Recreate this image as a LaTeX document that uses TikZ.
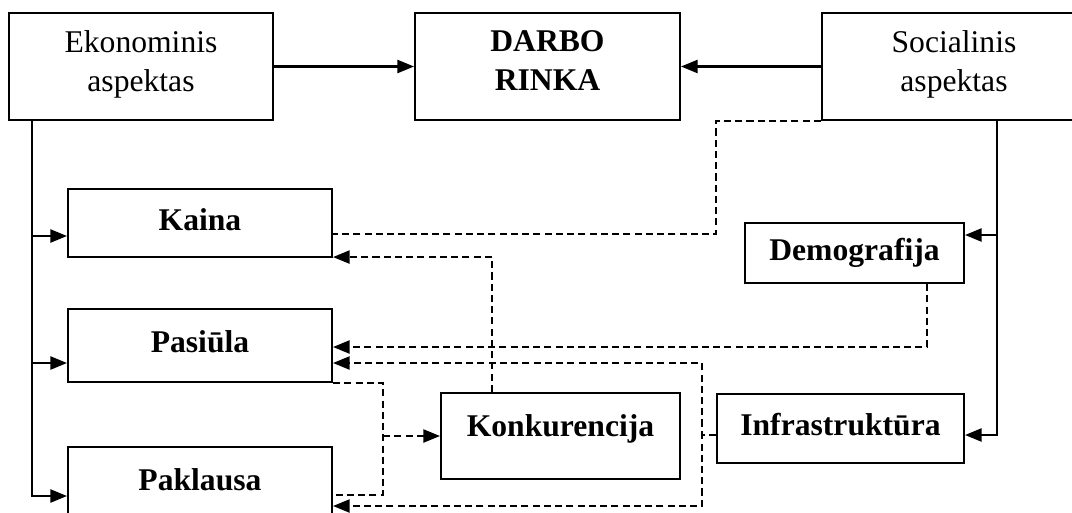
\documentclass[tikz,border=0pt]{standalone}
\usepackage{fontspec}
\setmainfont{Liberation Serif}
\usetikzlibrary{arrows.meta,calc}
\begin{document}
\begin{tikzpicture}[x=0.02cm,y=-0.02cm,
  box/.style={draw, line width=1.2pt, inner sep=0pt, align=center, font=\fontsize{18}{22}\selectfont},
  bbox/.style={box, font=\fontsize{18}{22}\selectfont\bfseries},
  one/.style={text height=13pt, text depth=5pt},
  solidarr/.style={line width=1.2pt, -{Triangle[length=9.5pt,width=7.5pt]}},
  dsh/.style={line width=1.1pt, dash pattern=on 4pt off 2.4pt},
  dsharr/.style={dsh, -{Triangle[length=9.5pt,width=7.5pt]}}
]
\clip (0,0) rectangle (1072,512);
% boxes
\node[box, minimum width=5.28cm, minimum height=2.14cm, text depth=6pt] (eko) at (141,66.5) {Ekonominis\\aspektas};
\node[bbox, minimum width=5.30cm, minimum height=2.14cm, text depth=7pt] (darbo) at (547.5,66.5) {DARBO\\RINKA};
\node[box, minimum width=5.28cm, minimum height=2.14cm, text depth=6pt] (soc) at (954,66.5) {Socialinis\\aspektas};
\node[bbox, one, minimum width=5.28cm, minimum height=1.36cm] (kaina) at (200,223) {Kaina};
\node[bbox, one, minimum width=5.28cm, minimum height=1.46cm] (pas) at (200,345.5) {Pasiūla};
\node[bbox, one, minimum width=5.28cm, minimum height=1.46cm] (pak) at (200,483.5) {Paklausa};
\node[bbox, minimum width=4.38cm, minimum height=1.20cm] (demo) at (854.5,253) {Demografija};
\node[bbox, text height=13pt, text depth=13pt, minimum width=4.78cm, minimum height=1.72cm] (konk) at (560.5,436) {Konkurencija};
\node[bbox, one, minimum width=4.94cm, minimum height=1.38cm] (infra) at (840.5,428.5) {Infrastruktūra};
% helper coordinates
\path ($(pas.south east)+(50,0)$) coordinate (jtop);
\coordinate (j) at (jtop |- konk.west);
% solid connectors
\draw[solidarr] (eko.east) -- (darbo.west);
\draw[solidarr] (soc.west) -- (darbo.east);
\draw[solidarr] ($(eko.south west)+(24,0)$) |- ($(kaina.west)+(0,13)$);
\draw[solidarr] ($(eko.south west)+(24,0)$) |- ($(pas.west)+(0,17.5)$);
\draw[solidarr] ($(eko.south west)+(24,0)$) |- ($(pak.west)+(0,12.5)$);
\draw[solidarr] ($(soc.south west)+(176,0)$) |- ($(demo.east)+(0,-18)$);
\draw[solidarr] ($(soc.south west)+(176,0)$) |- ($(infra.east)+(0,6.5)$);
% dashed connectors
\draw[dsh] (soc.south west) -- ++(-105,0) |- ($(kaina.east)+(0,11)$);
\draw[dsharr] ($(konk.north west)+(52,0)$) |- ($(kaina.south east)+(0,-1)$);
\draw[dsharr] ($(demo.south west)+(183,0)$) |- ($(pas.east)+(0,1.5)$);
\draw[dsharr] ($(infra.west)+(0,6.5)$) -- ++(-14,0) |- ($(pas.east)+(0,17.5)$);
\draw[dsharr] ($(infra.west)+(0,6.5)$) -- ++(-14,0) |- ($(pak.east)+(0,22.5)$);
\draw[dsh] (pas.south east) -- (jtop) |- ($(pak.east)+(0,11.5)$);
\draw[dsharr] (j) -- (konk.west);
\end{tikzpicture}
\end{document}
